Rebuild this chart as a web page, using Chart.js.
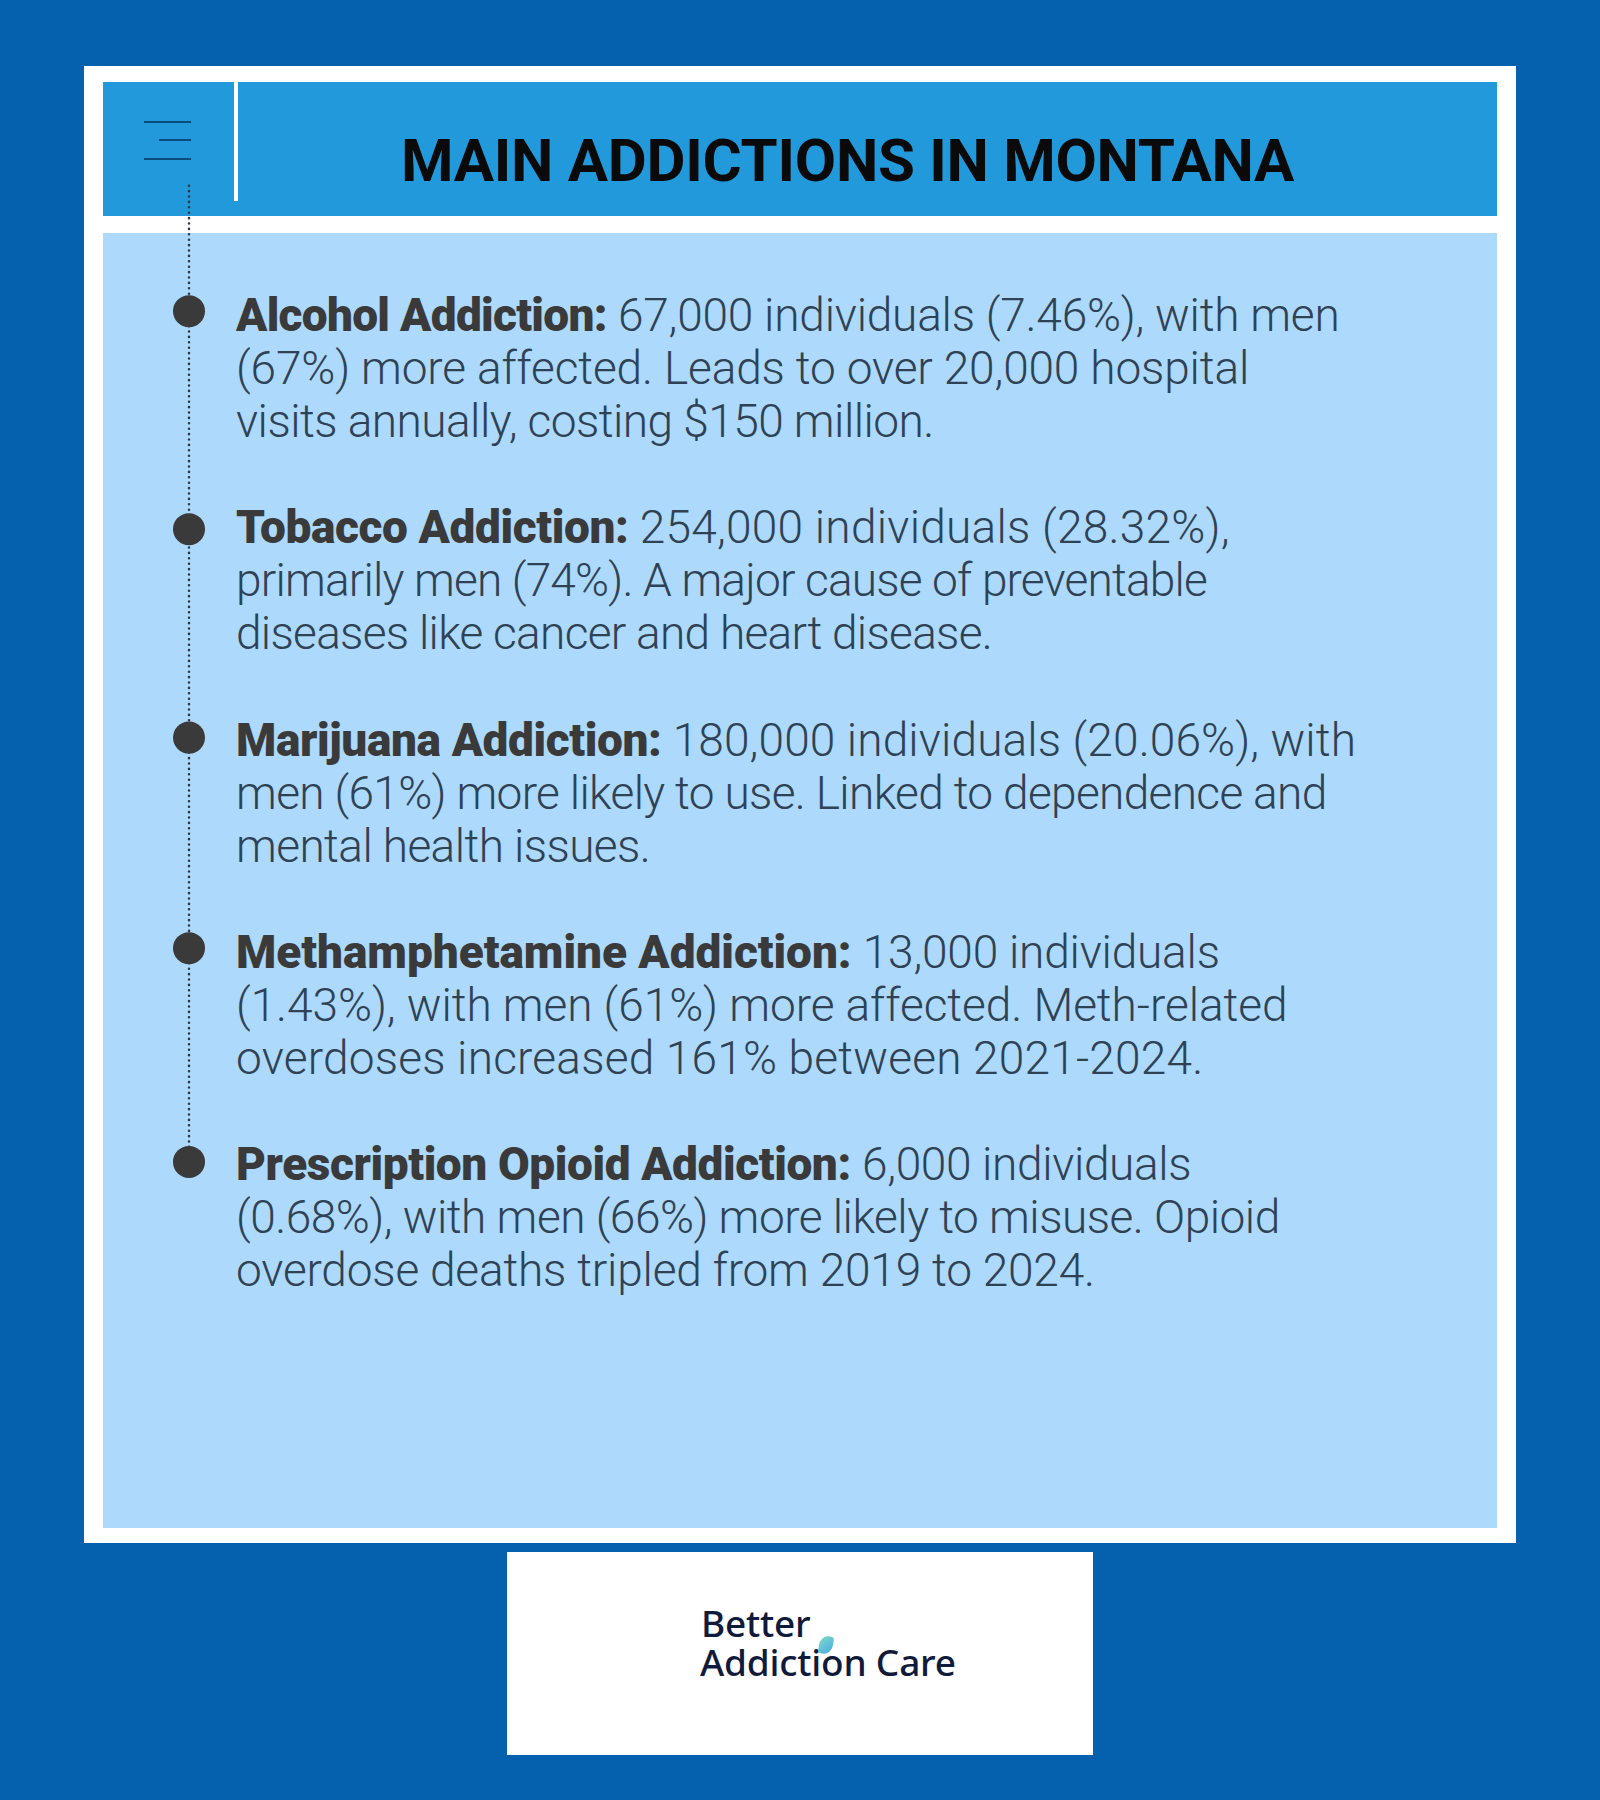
<!DOCTYPE html>
<html>
<head>
<meta charset="utf-8">
<title>Main Addictions in Montana</title>
<script src="https://cdn.jsdelivr.net/npm/chart.js@4"></script>
<style>
    html, body { margin: 0; padding: 0; }
    body { width: 1600px; height: 1800px; background: #0560ad; position: relative; overflow: hidden; }
    .box { position: absolute; }
    #frame { left: 84px; top: 66px; width: 1432px; height: 1477px; background: #fff; }
    #header { left: 103px; top: 82px; width: 1394px; height: 134px; background: #2299da; }
    #panel { left: 103px; top: 233px; width: 1394px; height: 1295px; background: #acd9fc; }
    #divider { left: 234px; top: 82px; width: 4px; height: 119px; background: #fff; }
    .bar { position: absolute; height: 2px; background: #0b4c7e; }
    #title { position: absolute; left: 401px; top: 125px; white-space: nowrap;
        font: 700 60px/72px Roboto, sans-serif; color: #0a0a0a; letter-spacing: -0.28px; }
    #logoBox { left: 507px; top: 1552px; width: 586px; height: 203px; background: #fff; }
    .logo { position: absolute; font: 500 37px/38px "Noto Sans", sans-serif; color: #101a3a; white-space: nowrap; letter-spacing: -0.2px; }
    #leaf { left: 819px; top: 1636px; width: 14px; height: 18px; border-radius: 60% 20% 60% 20%;
        background: linear-gradient(135deg, #7fdcc0, #4aa8e8); transform: rotate(8deg); }
    #timeline { position: absolute; left: 165px; top: 175px; }
    .line { position: absolute; left: 236px; white-space: nowrap; font: 300 46px/53px Roboto, sans-serif; color: #2f4254; }
    .line b { font-weight: 900; color: #3a3a3a; }
</style>
</head>
<body>
<div id="frame" class="box"></div>
<div id="header" class="box"></div>
<div id="panel" class="box"></div>
<div id="divider" class="box"></div>
<div class="bar" style="left:144px;top:121px;width:47px"></div>
<div class="bar" style="left:159px;top:139px;width:32px"></div>
<div class="bar" style="left:144px;top:158px;width:47px"></div>
<div id="title">MAIN ADDICTIONS IN MONTANA</div>
<div id="text"></div>
<canvas id="timeline" width="48" height="1005"></canvas>
<div id="logoBox" class="box"></div>
<div class="logo" style="left:701px;top:1604px">Better</div>
<div class="logo" style="left:700px;top:1643px">Addiction Care</div>
<div id="leaf" class="box"></div>

<script>
// Text of each list item, broken the same way as the picture
const categories = ['Alcohol Addiction:', 'Tobacco Addiction:', 'Marijuana Addiction:', 'Methamphetamine Addiction:', 'Prescription Opioid Addiction:'];
const firstLines = [
    '67,000 individuals (7.46%), with men',
    '254,000 individuals (28.32%),',
    '180,000 individuals (20.06%), with',
    '13,000 individuals',
    '6,000 individuals'
];
const secondLines = [
    '(67%) more affected. Leads to over 20,000 hospital',
    'primarily men (74%). A major cause of preventable',
    'men (61%) more likely to use. Linked to dependence and',
    '(1.43%), with men (61%) more affected. Meth-related',
    '(0.68%), with men (66%) more likely to misuse. Opioid'
];
const thirdLines = [
    'visits annually, costing $150 million.',
    'diseases like cancer and heart disease.',
    'mental health issues.',
    'overdoses increased 161% between 2021-2024.',
    'overdose deaths tripled from 2019 to 2024.'
];
// Where each dot sits along the timeline, in list rows
const timelineRows = [0, 1.025, 2.005, 2.995, 4];
const stemRows = [-0.59, 4];

// Letter spacing per run, the original font is narrower than Roboto
const nameTracking = [-0.7, -0.39, -0.39, -0.05, -0.41];
const firstTracking = [-0.22, 0.25, 0.12, -0.21, -0.35];
const secondTracking = [-0.15, -0.81, -0.66, -0.06, -0.5];
const thirdTracking = [-0.54, -0.71, -0.59, 0.2, -0.2];

// Write out the list
const textBox = document.getElementById('text');
categories.forEach((name, i) => {
    const rows = [
        `<b style="letter-spacing:${nameTracking[i]}px">${name}</b> <span style="letter-spacing:${firstTracking[i]}px">${firstLines[i]}</span>`,
        `<span style="letter-spacing:${secondTracking[i]}px">${secondLines[i]}</span>`,
        `<span style="letter-spacing:${thirdTracking[i]}px">${thirdLines[i]}</span>`
    ];
    rows.forEach((html, j) => {
        const row = document.createElement('div');
        row.className = 'line';
        row.style.top = (289 + i * 212.3 + j * 53) + 'px';
        row.innerHTML = html;
        textBox.appendChild(row);
    });
});

// Timeline dots and dotted stem
new Chart(document.getElementById('timeline'), {
    type: 'scatter',
    data: {
        datasets: [
            {
                data: timelineRows.map(r => ({ x: 0, y: r })),
                backgroundColor: '#3a3a3a',
                borderWidth: 0,
                pointRadius: 16,
                showLine: false
            },
            {
                data: stemRows.map(r => ({ x: 0, y: r })),
                borderColor: '#2f3640',
                borderWidth: 2.5,
                borderDash: [0.1, 5.3],
                borderCapStyle: 'round',
                pointRadius: 0,
                showLine: true
            }
        ]
    },
    options: {
        responsive: false,
        animation: false,
        layout: { padding: 0, autoPadding: false },
        plugins: { legend: { display: false }, tooltip: { enabled: false } },
        scales: {
            x: { display: false, min: -1, max: 1 },
            y: { display: false, reverse: true, min: -0.64, max: 4.085 }
        }
    }
});
</script>
</body>
</html>
